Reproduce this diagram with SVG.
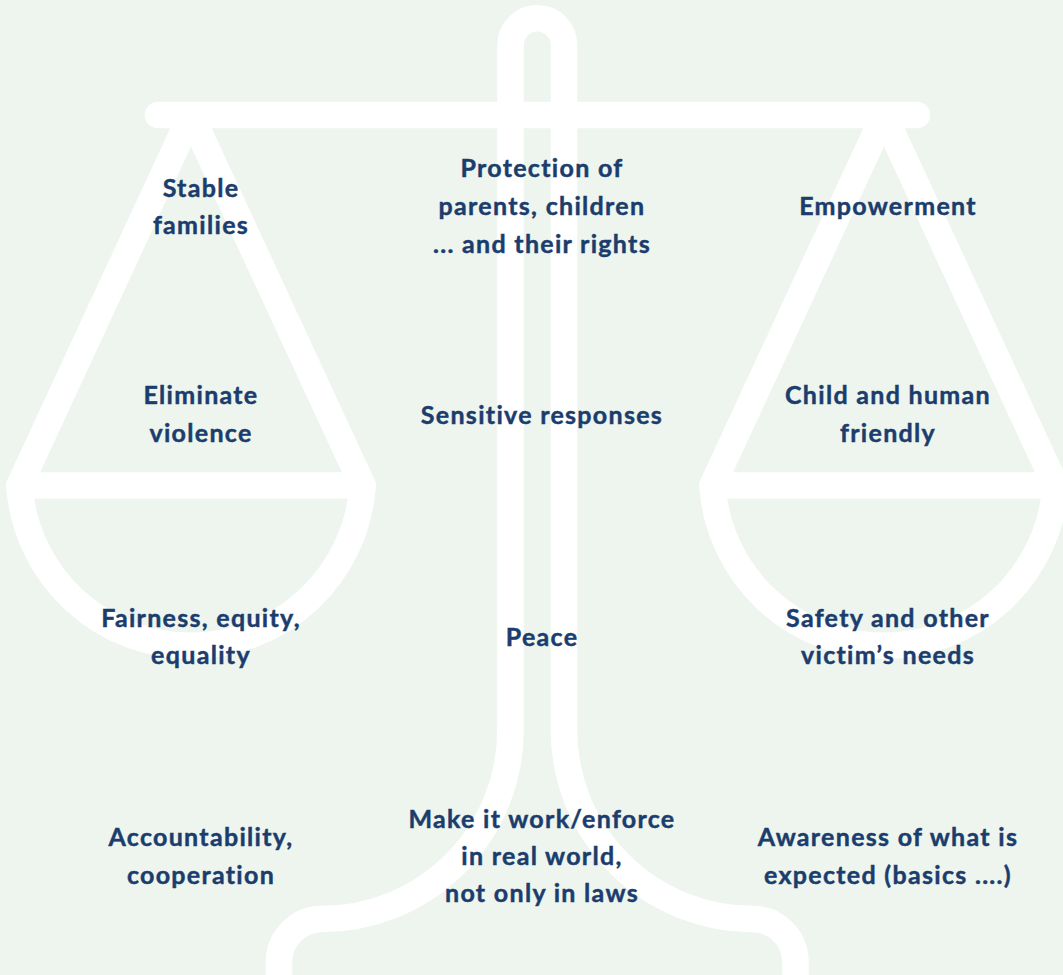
<svg xmlns="http://www.w3.org/2000/svg" width="1063" height="975" viewBox="0 0 1063 975">
  <style>
    .frame { fill: none; stroke: #ffffff; stroke-width: 26.5; stroke-linejoin: round; stroke-linecap: round; }
    .lbl { font-family: Lato, "Noto Sans", "Liberation Sans", sans-serif; font-weight: 700; font-size: 25px; fill: #1b3d6d; stroke: #1b3d6d; stroke-width: 0.45; text-anchor: middle; letter-spacing: 1.3px; }
  </style>
  <rect width="1063" height="975" fill="#eef5ee"/>

  <!-- scale frame -->
  <g id="scale">
    <!-- beam -->
    <path class="frame" d="M158 115 L917 115"/>
    <!-- left pan: hanger triangle, rim and bowl -->
    <path class="frame" d="M191 115 L19.4 485.5 L362.6 485.5 Z"/>
    <path class="frame" d="M19.4 485.5 A172 172 0 0 0 362.6 485.5"/>
    <!-- right pan -->
    <path class="frame" d="M884 115 L712.4 485.5 L1055.6 485.5 Z"/>
    <path class="frame" d="M712.4 485.5 A172 172 0 0 0 1055.6 485.5"/>
    <!-- pillar with flared foot -->
    <path class="frame" d="M322 919 A188.5 189 0 0 0 510.5 730 L510.5 45 A26.75 26.75 0 0 1 564 45 L564 730 A188.5 189 0 0 0 752.5 919 A43 43 0 0 1 795.5 962 L795.5 990 L279 990 L279 962 A43 43 0 0 1 322 919 Z"/>
  </g>

  <!-- left column -->
  <g id="stable-families"><text class="lbl" x="201" y="197">Stable</text><text class="lbl" x="201" y="234">families</text></g>
  <g id="eliminate-violence"><text class="lbl" x="201" y="404">Eliminate</text><text class="lbl" x="201" y="442">violence</text></g>
  <g id="fairness"><text class="lbl" x="201" y="627">Fairness, equity,</text><text class="lbl" x="201" y="664">equality</text></g>
  <g id="accountability"><text class="lbl" x="201" y="846">Accountability,</text><text class="lbl" x="201" y="884">cooperation</text></g>

  <!-- centre column -->
  <g id="protection"><text class="lbl" x="542" y="177">Protection of</text><text class="lbl" x="542" y="215">parents, children</text><text class="lbl" x="542" y="253">... and their rights</text></g>
  <g id="sensitive-responses"><text class="lbl" x="542" y="424">Sensitive responses</text></g>
  <g id="peace"><text class="lbl" x="542" y="646">Peace</text></g>
  <g id="make-it-work"><text class="lbl" x="542" y="828">Make it work/enforce</text><text class="lbl" x="542" y="865">in real world,</text><text class="lbl" x="542" y="902">not only in laws</text></g>

  <!-- right column -->
  <g id="empowerment"><text class="lbl" x="888" y="215">Empowerment</text></g>
  <g id="child-friendly"><text class="lbl" x="888" y="404">Child and human</text><text class="lbl" x="888" y="442">friendly</text></g>
  <g id="safety"><text class="lbl" x="888" y="627">Safety and other</text><text class="lbl" x="888" y="664">victim’s needs</text></g>
  <g id="awareness"><text class="lbl" x="888" y="846">Awareness of what is</text><text class="lbl" x="888" y="884">expected (basics ....)</text></g>

  <!-- connectors: none in this figure -->
  <g id="connectors"/>
</svg>
